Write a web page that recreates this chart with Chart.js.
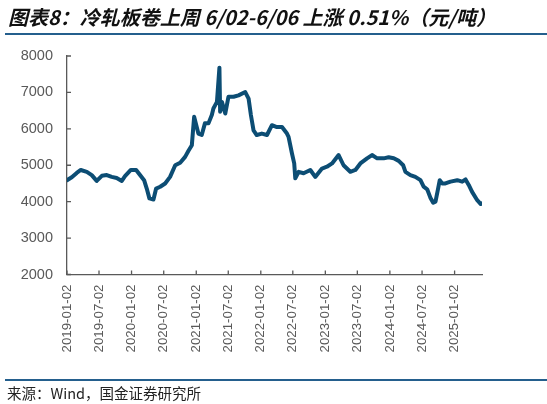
<!DOCTYPE html>
<html lang="zh">
<head>
<meta charset="utf-8">
<title>冷轧板卷</title>
<script src="https://cdn.jsdelivr.net/npm/chart.js@4.4.1/dist/chart.umd.min.js"></script>
<style>
    body { margin: 0; background: #fff; }
    #wrap { position: relative; width: 547px; height: 404px; overflow: hidden; }
    #titre { position: absolute; left: 8px; top: 2px; font: italic bold 20px "Noto Sans CJK SC"; color: #111; white-space: nowrap; }
    .rule { position: absolute; left: 5px; right: 0; background: #245f8d; }
    #source { position: absolute; left: 7px; top: 384px; font: 14.5px "Noto Sans CJK SC"; color: #222; white-space: nowrap; line-height: 18px; }
    canvas { position: absolute; left: 0; top: 0; }
</style>
</head>
<body>
<div id="wrap">
    <canvas id="myChart" width="547" height="404"></canvas>
    <div id="titre">图表8：冷轧板卷上周 6/02-6/06 上涨 0.51%（元/吨）</div>
    <div class="rule" style="top:33px;height:2px"></div>
    <div class="rule" style="top:379px;height:1.5px"></div>
    <div id="source">来源：Wind，国金证券研究所</div>
</div>
<script>
// Les dates des points
const dates = [
    "2019-01-02", "2019-01-29", "2019-02-26", "2019-03-21", "2019-04-24", "2019-05-22", "2019-06-19",
    "2019-07-18", "2019-08-15", "2019-09-12", "2019-10-10", "2019-11-08", "2019-11-26", "2019-12-29",
    "2020-01-28", "2020-02-19", "2020-03-13", "2020-03-28", "2020-04-12", "2020-05-05", "2020-05-20",
    "2020-06-12", "2020-07-10", "2020-08-07", "2020-09-05", "2020-10-03", "2020-10-31", "2020-11-19",
    "2020-12-08", "2020-12-21", "2021-01-14", "2021-02-02", "2021-02-20", "2021-03-12", "2021-03-31",
    "2021-04-09", "2021-04-29", "2021-05-13", "2021-05-17", "2021-05-27", "2021-06-15", "2021-07-03",
    "2021-08-01", "2021-08-29", "2021-10-06", "2021-10-25", "2021-11-07", "2021-11-22", "2021-12-10",
    "2022-01-08", "2022-02-06", "2022-03-06", "2022-04-03", "2022-05-02", "2022-05-30", "2022-06-08",
    "2022-06-27", "2022-07-10", "2022-07-16", "2022-08-04", "2022-09-01", "2022-10-09", "2022-11-06",
    "2022-12-14", "2023-01-11", "2023-02-09", "2023-03-18", "2023-04-15", "2023-05-23", "2023-06-21",
    "2023-07-19", "2023-08-26", "2023-09-23", "2023-10-22", "2023-11-28", "2023-12-26", "2024-01-24",
    "2024-02-21", "2024-03-17", "2024-03-30", "2024-04-27", "2024-05-25", "2024-06-23", "2024-07-11",
    "2024-07-31", "2024-08-18", "2024-09-03", "2024-09-16", "2024-09-29", "2024-10-10", "2024-10-24",
    "2024-11-11", "2024-12-10", "2025-01-17", "2025-02-14", "2025-03-05", "2025-03-23", "2025-04-11",
    "2025-05-10", "2025-05-30", "2025-06-06"
]
// Les prix en yuan/tonne
const prix = [
    4590, 4670, 4790, 4870, 4820, 4730, 4570,
    4710, 4730, 4680, 4650, 4570, 4700, 4870,
    4870, 4730, 4590, 4360, 4090, 4060, 4360,
    4410, 4500, 4680, 5000, 5070, 5230, 5400,
    5550, 6330, 5870, 5830, 6150, 6150, 6380,
    6560, 6740, 7680, 6470, 6740, 6420, 6880,
    6880, 6920, 7010, 6830, 6380, 5960, 5830,
    5870, 5830, 6100, 6050, 6050, 5870, 5780,
    5330, 5050, 4640, 4820, 4780, 4870, 4680,
    4910, 4960, 5050, 5280, 5000, 4820, 4870,
    5050, 5190, 5280, 5190, 5190, 5220, 5190,
    5120, 5000, 4820, 4730, 4680, 4590, 4410,
    4340, 4110, 3970, 4000, 4320, 4590, 4500,
    4500, 4550, 4590, 4550, 4610, 4460, 4270,
    4040, 3935, 3955
]
// Les etiquettes de l'axe des x
const etiquettesX = [
    "2019-01-02", "2019-07-02", "2020-01-02", "2020-07-02", "2021-01-02", "2021-07-02", "2022-01-02",
    "2022-07-02", "2023-01-02", "2023-07-02", "2024-01-02", "2024-07-02", "2025-01-02"
]
// Les graduations de l'axe des y
const yMin = 2000
const yMax = 8000
const yPas = 1000

// Pour convertir une date en nombre de jours
function jour(s) {
    const [a, m, j] = s.split("-").map(Number)
    return Date.UTC(a, m - 1, j) / 86400000
}

const points = dates.map((d, i) => ({ x: jour(d), y: prix[i] }))
const couleurAxe = "#595959"

// Plugin pour dessiner les petits traits vers l'interieur des axes
const traitsInterieurs = {
    id: "traitsInterieurs",
    afterDraw(chart) {
        const ctx = chart.ctx
        const { x, y } = chart.scales
        ctx.save()
        ctx.strokeStyle = couleurAxe
        ctx.lineWidth = 1.3
        ctx.beginPath()
        y.ticks.forEach(t => {
            const py = y.getPixelForValue(t.value)
            ctx.moveTo(y.right, py)
            ctx.lineTo(y.right + 4, py)
        })
        x.ticks.forEach(t => {
            const px = x.getPixelForValue(t.value)
            ctx.moveTo(px, x.top)
            ctx.lineTo(px, x.top - 4)
        })
        ctx.stroke()
        ctx.restore()
    }
}

const graph = document.getElementById("myChart")
// eslint-disable-next-line no-undef
new Chart(graph, {
    type: "line",
    data: {
        datasets: [{
            label: "冷轧板卷",
            data: points,
            borderColor: "#0c4d74",
            borderWidth: 4,
            pointRadius: 0,
            tension: 0,
            borderJoinStyle: "round",
            borderCapStyle: "round"
        }]
    },
    options: {
        responsive: false,
        animation: false,
        layout: { padding: { left: 0, right: 65, top: 56, bottom: 0 } },
        scales: {
            x: {
                type: "linear",
                min: jour("2019-01-02"),
                max: jour("2025-06-06"),
                afterFit: scale => { scale.height = 129.5 },
                afterBuildTicks: scale => {
                    scale.ticks = etiquettesX.map(d => ({ value: jour(d) }))
                },
                grid: { display: false, drawTicks: false },
                border: { display: true, color: couleurAxe, width: 1.3 },
                ticks: {
                    autoSkip: false,
                    minRotation: 90,
                    maxRotation: 90,
                    padding: 10,
                    color: couleurAxe,
                    font: { family: "Liberation Sans, Arial", size: 13.3 },
                    callback: value => {
                        const i = etiquettesX.findIndex(d => jour(d) === value)
                        return i >= 0 ? etiquettesX[i] : ""
                    }
                }
            },
            y: {
                min: yMin,
                max: yMax,
                afterFit: scale => { scale.width = 67 },
                grid: { display: false, drawTicks: false },
                border: { display: true, color: couleurAxe, width: 1.3 },
                ticks: {
                    stepSize: yPas,
                    padding: 14,
                    color: couleurAxe,
                    font: { family: "Liberation Sans, Arial", size: 14.5 },
                    callback: value => String(value) // pas de separateur des milliers
                }
            }
        },
        plugins: {
            legend: { display: false },
            tooltip: { enabled: false }
        }
    },
    plugins: [traitsInterieurs]
})
</script>
</body>
</html>
